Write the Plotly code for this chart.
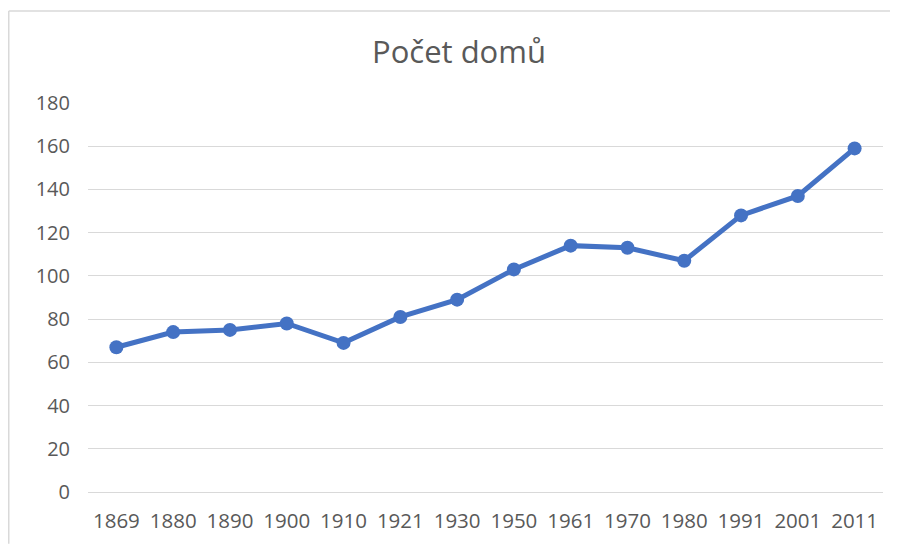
import plotly.graph_objects as go

years = ["1869", "1880", "1890", "1900", "1910", "1921", "1930", "1950", "1961", "1970", "1980", "1991", "2001", "2011"]
houses = [67, 74, 75, 78, 69, 81, 89, 103, 114, 113, 107, 128, 137, 159]
y_ticks = [0, 20, 40, 60, 80, 100, 120, 140, 160, 180]

# page body has an 8px margin, so the figure is sized/placed to compensate
OFF = 8
W, H = 898 - OFF, 546 - OFF
L, R, T, B = 88 - OFF, 15, 103 - OFF, 52

fig = go.Figure()
fig.add_trace(go.Scatter(
    x=years, y=houses, mode="lines+markers",
    line=dict(color="#4472C4", width=5),
    marker=dict(color="#4472C4", size=14),
    cliponaxis=False,
))

font_family = "Open Sans, Noto Sans, Liberation Sans, sans-serif"
fig.update_layout(
    width=W, height=H,
    margin=dict(l=L, r=R, t=T, b=B),
    paper_bgcolor="white", plot_bgcolor="white",
    showlegend=False,
    title=dict(text="Počet domů", x=(459 - OFF) / W, xanchor="center", xref="container",
               y=1 - (52 - OFF) / H, yanchor="middle", yref="container",
               font=dict(family=font_family, size=31, color="#595959")),
    font=dict(family=font_family, color="#595959"),
)
fig.update_xaxes(type="category", range=[-0.5, len(years) - 0.5], showgrid=False, showline=False,
                 zeroline=False, ticks="", tickfont=dict(size=20.5, color="#595959"), ticklabelstandoff=14)
fig.update_yaxes(range=[0, 180], tickvals=y_ticks, showgrid=True, gridcolor="#D9D9D9", gridwidth=1,
                 zeroline=True, zerolinecolor="#D9D9D9", zerolinewidth=1, showline=False, ticks="",
                 tickfont=dict(size=20, color="#595959"), ticklabelstandoff=17)

pw = W - L - R
ph = H - T - B
# chart-area border (light gray), left and top edges
x_left = (0.75 - L) / pw
y_top = 1 + (T - 2.5) / ph
fig.add_shape(type="line", xref="paper", yref="paper", x0=x_left, x1=x_left, y0=y_top, y1=-B / ph,
              line=dict(color="#D9D9D9", width=1.5))
fig.add_shape(type="line", xref="paper", yref="paper", x0=x_left, x1=1 + R / pw, y0=y_top, y1=y_top,
              line=dict(color="#D9D9D9", width=1.5))

fig.write_html("out.html")
